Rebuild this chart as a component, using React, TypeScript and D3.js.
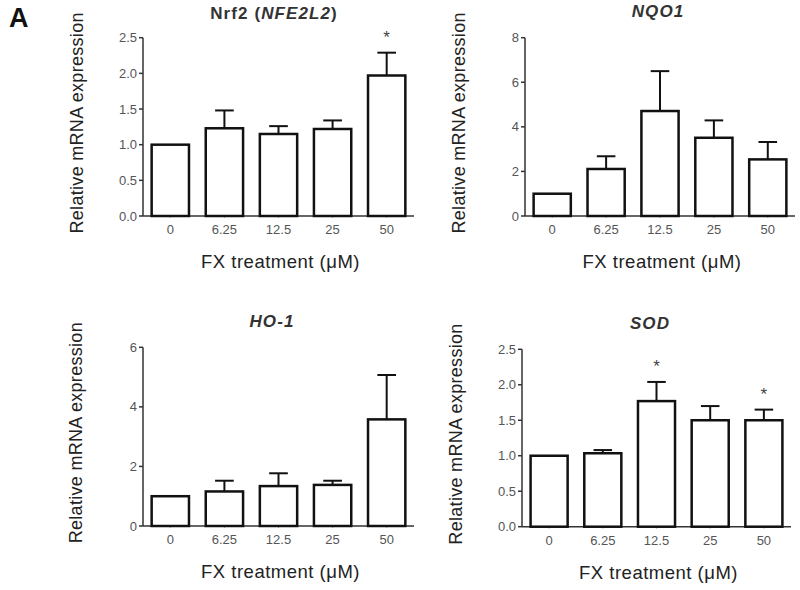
import React from "react";
import * as d3 from "d3";

const categories = ["0", "6.25", "12.5", "25", "50"];

const nrf2Means = [1.0, 1.23, 1.15, 1.22, 1.97];
const nrf2Errors = [0, 0.25, 0.11, 0.12, 0.32];
const nrf2Stars = [false, false, false, false, true];
const nrf2Ticks = [0, 0.5, 1.0, 1.5, 2.0, 2.5];

const nqo1Means = [1.0, 2.11, 4.71, 3.51, 2.54];
const nqo1Errors = [0, 0.57, 1.79, 0.78, 0.78];
const nqo1Stars = [false, false, false, false, false];
const nqo1Ticks = [0, 2, 4, 6, 8];

const ho1Means = [1.0, 1.16, 1.34, 1.38, 3.58];
const ho1Errors = [0, 0.36, 0.43, 0.14, 1.49];
const ho1Stars = [false, false, false, false, false];
const ho1Ticks = [0, 2, 4, 6];

const sodMeans = [1.0, 1.035, 1.77, 1.5, 1.5];
const sodErrors = [0, 0.045, 0.27, 0.2, 0.15];
const sodStars = [false, false, true, false, true];
const sodTicks = [0, 0.5, 1.0, 1.5, 2.0, 2.5];

type Panel = {
  title: React.ReactNode;
  means: number[];
  errors: number[];
  stars: boolean[];
  ticks: number[];
  fmt: (v: number) => string;
  x0: number;
  x1: number;
  y0: number;
  y1: number;
  titleX: number;
  titleY: number;
  ylabX: number;
};

const FONT = "'Liberation Sans', Arial, sans-serif";

function BarPanel({ p }: { p: Panel }) {
  const x = d3.scaleBand<string>().domain(categories).range([p.x0, p.x1]).paddingInner(0.31).paddingOuter(0.16);
  const ymax = p.ticks[p.ticks.length - 1];
  const y = d3.scaleLinear().domain([0, ymax]).range([p.y0, p.y1]);
  const bw = x.bandwidth();
  return (
    <g fontFamily={FONT}>
      <text
        x={p.titleX}
        y={p.titleY}
        textAnchor="middle"
        fontSize={17}
        fontWeight="bold"
        letterSpacing={1.1}
        fill="#333"
      >
        {p.title}
      </text>
      <text
        transform={`translate(${p.ylabX},${(p.y0 + p.y1) / 2 - 4}) rotate(-90)`}
        textAnchor="middle"
        fontSize={18}
        letterSpacing={0.3}
        fill="#222"
      >
        Relative mRNA expression
      </text>
      {/* y axis */}
      <line x1={p.x0} x2={p.x0} y1={y(0)} y2={y(ymax)} stroke="#333" strokeWidth={1.5} />
      {p.ticks.map((t) => (
        <g key={t}>
          <line x1={p.x0 - 4} x2={p.x0} y1={y(t)} y2={y(t)} stroke="#333" strokeWidth={1.5} />
          <text x={p.x0 - 6} y={y(t)} dy="0.35em" textAnchor="end" fontSize={13} fill="#555">
            {p.fmt(t)}
          </text>
        </g>
      ))}
      {/* x axis */}
      <line x1={p.x0} x2={p.x1} y1={y(0)} y2={y(0)} stroke="#333" strokeWidth={1.5} />
      {categories.map((c) => (
        <g key={c}>
          <line
            x1={(x(c) as number) + bw / 2}
            x2={(x(c) as number) + bw / 2}
            y1={y(0)}
            y2={y(0) + 2}
            stroke="#aaa"
            strokeWidth={1}
          />
          <text x={(x(c) as number) + bw / 2} y={y(0) + 18} textAnchor="middle" fontSize={13} fill="#555">
            {c}
          </text>
        </g>
      ))}
      {/* error bars */}
      {categories.map((c, i) => {
        if (p.errors[i] <= 0) return null;
        const cx = (x(c) as number) + bw / 2;
        const top = y(p.means[i] + p.errors[i]);
        return (
          <g key={"e" + c} stroke="#111" strokeWidth={2}>
            <line x1={cx} x2={cx} y1={y(p.means[i])} y2={top} />
            <line x1={cx - bw / 4} x2={cx + bw / 4} y1={top} y2={top} />
          </g>
        );
      })}
      {/* bars */}
      {categories.map((c, i) => (
        <rect
          key={"b" + c}
          x={x(c) as number}
          y={y(p.means[i])}
          width={bw}
          height={y(0) - y(p.means[i])}
          fill="none"
          stroke="#111"
          strokeWidth={2.5}
        />
      ))}
      {/* stars */}
      {categories.map((c, i) =>
        p.stars[i] ? (
          <text
            key={"s" + c}
            x={(x(c) as number) + bw / 2}
            y={y(p.means[i] + p.errors[i]) - 10}
            textAnchor="middle"
            fontSize={17}
            fill="#444"
          >
            *
          </text>
        ) : null
      )}
      <text
        x={(p.x0 + p.x1) / 2 + 2}
        y={p.y0 + 52}
        textAnchor="middle"
        fontSize={18.5}
        letterSpacing={0.5}
        fill="#222"
      >
        FX treatment (μM)
      </text>
    </g>
  );
}

const fmt1 = (v: number) => v.toFixed(1);
const fmt0 = (v: number) => String(v);

export default function App() {
  const panels: Panel[] = [
    {
      title: (
        <>
          Nrf2 (<tspan fontStyle="italic">NFE2L2</tspan>)
        </>
      ),
      means: nrf2Means, errors: nrf2Errors, stars: nrf2Stars, ticks: nrf2Ticks, fmt: fmt1,
      x0: 143, x1: 414, y0: 216, y1: 37.7, titleX: 274, titleY: 19, ylabX: 83,
    },
    {
      title: <tspan fontStyle="italic">NQO1</tspan>,
      means: nqo1Means, errors: nqo1Errors, stars: nqo1Stars, ticks: nqo1Ticks, fmt: fmt0,
      x0: 525, x1: 795, y0: 216, y1: 37.7, titleX: 658, titleY: 17, ylabX: 465,
    },
    {
      title: <tspan fontStyle="italic">HO-1</tspan>,
      means: ho1Means, errors: ho1Errors, stars: ho1Stars, ticks: ho1Ticks, fmt: fmt0,
      x0: 143, x1: 414, y0: 526, y1: 347.3, titleX: 272, titleY: 327, ylabX: 82,
    },
    {
      title: <tspan fontStyle="italic">SOD</tspan>,
      means: sodMeans, errors: sodErrors, stars: sodStars, ticks: sodTicks, fmt: fmt1,
      x0: 522, x1: 791, y0: 526.7, y1: 349.3, titleX: 650, titleY: 329, ylabX: 462,
    },
  ];
  return (
    <svg width={800} height={590} style={{ position: "absolute", left: 0, top: 0, background: "#fff" }}>
      <rect width={800} height={590} fill="#fff" />
      <text x={9} y={27} fontSize={27} fontWeight="bold" fontFamily={FONT} fill="#111">
        A
      </text>
      {panels.map((p, i) => (
        <BarPanel key={i} p={p} />
      ))}
    </svg>
  );
}
